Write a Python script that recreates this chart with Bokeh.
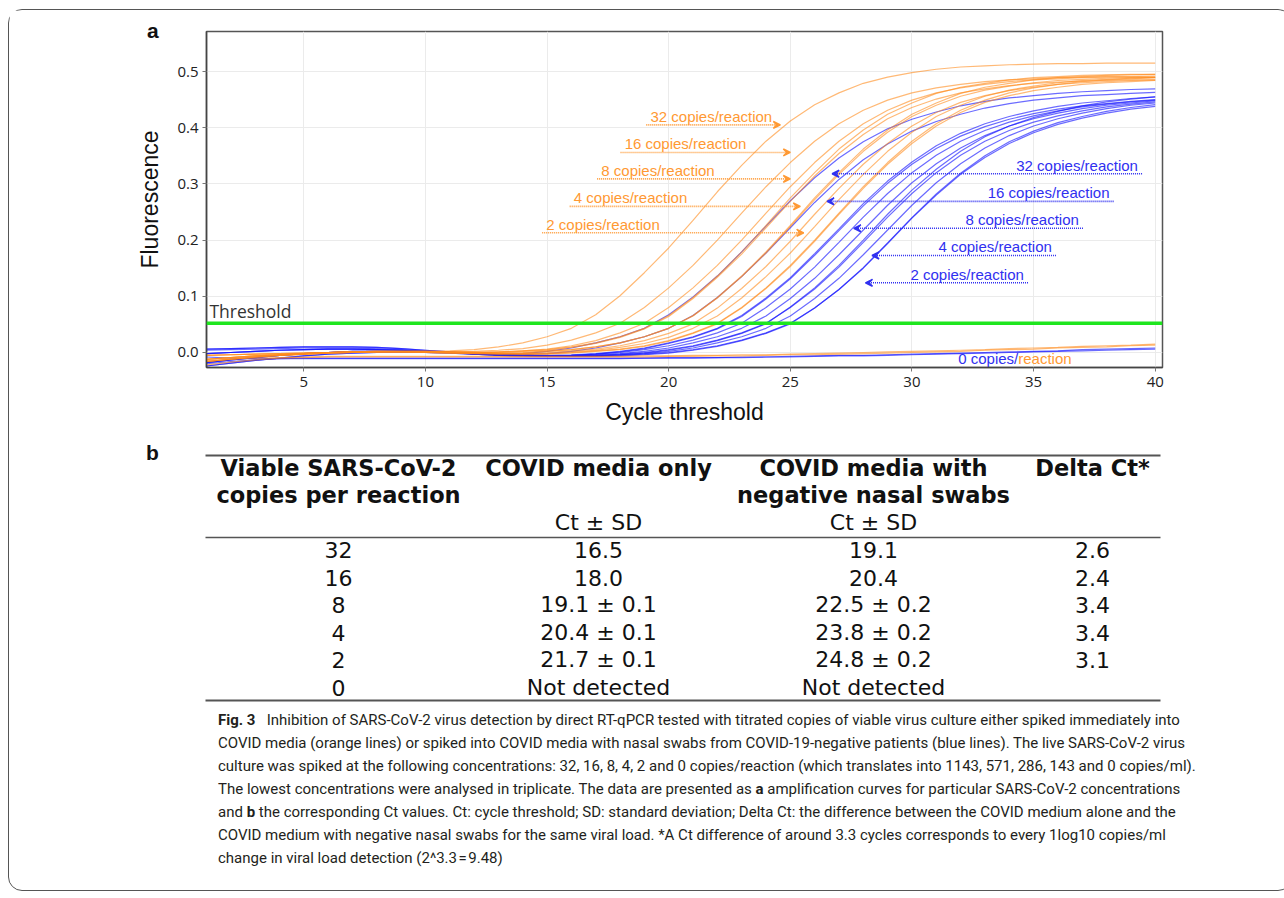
from bokeh.plotting import figure
from bokeh.models import Range1d, FixedTicker, PrintfTickFormatter, Span, Arrow, VeeHead, Div
from bokeh.layouts import column
from bokeh.core.properties import value
from bokeh.embed import file_html
from bokeh.resources import INLINE

# ---------------- data ----------------
cycles = [1, 2, 3, 4, 5, 6, 7, 8, 9, 10, 11, 12, 13, 14, 15, 16, 17, 18, 19, 20,
          21, 22, 23, 24, 25, 26, 27, 28, 29, 30, 31, 32, 33, 34, 35, 36, 37, 38, 39, 40]
threshold = 0.052
x_ticks = [5, 10, 15, 20, 25, 30, 35, 40]
y_ticks = [0.0, 0.1, 0.2, 0.3, 0.4, 0.5]

# COVID media only (orange)
orange_32 = [-0.012, -0.009, -0.006, -0.004, -0.002, 0.000, 0.001, 0.002, 0.002, 0.002,
             0.003, 0.005, 0.010, 0.017, 0.028, 0.043, 0.067, 0.101, 0.142, 0.186,
             0.235, 0.286, 0.333, 0.376, 0.412, 0.441, 0.462, 0.479, 0.490, 0.498,
             0.504, 0.508, 0.510, 0.512, 0.513, 0.514, 0.514, 0.515, 0.515, 0.515]
orange_16 = [-0.016, -0.012, -0.008, -0.005, -0.003, -0.001, 0.000, 0.001, 0.001, 0.001,
             0.001, 0.002, 0.004, 0.007, 0.013, 0.022, 0.035, 0.052, 0.080, 0.115,
             0.155, 0.200, 0.248, 0.295, 0.338, 0.376, 0.407, 0.431, 0.449, 0.462,
             0.471, 0.477, 0.482, 0.485, 0.487, 0.489, 0.490, 0.491, 0.491, 0.492]
orange_8a = [-0.005, -0.004, -0.003, -0.002, -0.001, 0.000, 0.001, 0.001, 0.001, 0.000,
             -0.001, -0.001, 0.001, 0.003, 0.006, 0.012, 0.021, 0.035, 0.052, 0.080,
             0.115, 0.155, 0.200, 0.248, 0.295, 0.338, 0.376, 0.407, 0.431, 0.449,
             0.462, 0.471, 0.477, 0.482, 0.485, 0.487, 0.489, 0.490, 0.490, 0.490]
orange_8b = [-0.012, -0.009, -0.006, -0.004, -0.002, 0.000, 0.001, 0.002, 0.002, 0.002,
             0.001, 0.001, 0.001, 0.003, 0.005, 0.010, 0.017, 0.028, 0.043, 0.066,
             0.098, 0.136, 0.179, 0.226, 0.275, 0.320, 0.362, 0.396, 0.424, 0.444,
             0.461, 0.472, 0.479, 0.485, 0.489, 0.491, 0.493, 0.494, 0.495, 0.495]
orange_8c = [-0.016, -0.012, -0.008, -0.005, -0.003, -0.001, 0.000, 0.001, 0.001, 0.001,
             0.000, 0.000, 0.000, 0.002, 0.004, 0.009, 0.016, 0.027, 0.042, 0.064,
             0.096, 0.134, 0.175, 0.222, 0.269, 0.314, 0.354, 0.388, 0.416, 0.436,
             0.451, 0.462, 0.469, 0.475, 0.479, 0.481, 0.483, 0.484, 0.485, 0.485]
orange_4a = [-0.005, -0.004, -0.003, -0.002, -0.001, 0.000, 0.001, 0.001, 0.001, 0.000,
             -0.001, -0.002, -0.002, -0.001, 0.002, 0.005, 0.010, 0.017, 0.028, 0.043,
             0.065, 0.097, 0.135, 0.177, 0.224, 0.272, 0.317, 0.358, 0.392, 0.420,
             0.440, 0.456, 0.467, 0.474, 0.480, 0.484, 0.486, 0.488, 0.489, 0.490]
orange_4b = [-0.012, -0.009, -0.006, -0.004, -0.002, 0.000, 0.001, 0.002, 0.002, 0.002,
             0.001, 0.000, -0.001, 0.000, 0.003, 0.005, 0.010, 0.017, 0.028, 0.043,
             0.066, 0.098, 0.136, 0.179, 0.226, 0.275, 0.320, 0.362, 0.396, 0.424,
             0.444, 0.461, 0.472, 0.479, 0.485, 0.489, 0.491, 0.493, 0.494, 0.495]
orange_4c = [-0.016, -0.012, -0.008, -0.005, -0.003, -0.001, 0.000, 0.001, 0.001, 0.001,
             0.000, -0.001, -0.002, -0.002, 0.000, 0.003, 0.006, 0.012, 0.021, 0.034,
             0.051, 0.079, 0.114, 0.153, 0.198, 0.246, 0.292, 0.335, 0.372, 0.403,
             0.427, 0.445, 0.457, 0.466, 0.472, 0.477, 0.480, 0.482, 0.484, 0.485]
orange_2a = [-0.005, -0.004, -0.003, -0.002, -0.001, 0.000, 0.001, 0.001, 0.001, 0.000,
             -0.001, -0.002, -0.003, -0.003, -0.002, 0.001, 0.004, 0.009, 0.016, 0.027,
             0.043, 0.065, 0.097, 0.135, 0.177, 0.224, 0.272, 0.317, 0.358, 0.392,
             0.420, 0.440, 0.456, 0.467, 0.474, 0.480, 0.484, 0.486, 0.488, 0.489]
orange_2b = [-0.012, -0.009, -0.006, -0.004, -0.002, 0.000, 0.001, 0.002, 0.002, 0.002,
             0.001, 0.000, -0.001, -0.002, -0.002, 0.000, 0.003, 0.006, 0.012, 0.021,
             0.035, 0.052, 0.080, 0.115, 0.155, 0.200, 0.248, 0.295, 0.338, 0.376,
             0.407, 0.431, 0.449, 0.462, 0.471, 0.477, 0.482, 0.485, 0.487, 0.489]
orange_2c = [-0.016, -0.012, -0.008, -0.005, -0.003, -0.001, 0.000, 0.001, 0.001, 0.001,
             0.000, -0.001, -0.002, -0.003, -0.003, -0.001, 0.002, 0.005, 0.011, 0.020,
             0.034, 0.051, 0.079, 0.114, 0.153, 0.198, 0.246, 0.292, 0.335, 0.372,
             0.403, 0.427, 0.445, 0.457, 0.466, 0.472, 0.477, 0.480, 0.482, 0.484]
orange_0a = [-0.022, -0.017, -0.013, -0.010, -0.009, -0.008, -0.008, -0.008, -0.008, -0.008,
             -0.008, -0.008, -0.008, -0.008, -0.008, -0.008, -0.008, -0.008, -0.008, -0.007,
             -0.007, -0.006, -0.006, -0.005, -0.004, -0.004, -0.003, -0.002, -0.001, 0.000,
             0.001, 0.002, 0.004, 0.005, 0.006, 0.008, 0.009, 0.010, 0.012, 0.013]
orange_0b = [-0.014, -0.012, -0.010, -0.009, -0.008, -0.007, -0.007, -0.007, -0.007, -0.007,
             -0.007, -0.007, -0.007, -0.007, -0.007, -0.007, -0.007, -0.007, -0.006, -0.006,
             -0.005, -0.005, -0.004, -0.004, -0.003, -0.002, -0.001, 0.000, 0.001, 0.002,
             0.003, 0.004, 0.005, 0.007, 0.008, 0.009, 0.011, 0.012, 0.013, 0.015]

# COVID media with negative nasal swabs (blue)
blue_32 = [0.006, 0.007, 0.008, 0.009, 0.010, 0.010, 0.010, 0.009, 0.007, 0.004,
           0.001, -0.003, -0.004, -0.002, 0.002, 0.008, 0.017, 0.028, 0.043, 0.067,
           0.099, 0.136, 0.179, 0.225, 0.270, 0.311, 0.346, 0.375, 0.398, 0.415,
           0.428, 0.439, 0.447, 0.453, 0.457, 0.461, 0.464, 0.466, 0.468, 0.469]
blue_16 = [-0.002, 0.000, 0.002, 0.004, 0.005, 0.006, 0.006, 0.005, 0.004, 0.002,
           0.000, -0.002, -0.004, -0.004, -0.002, 0.002, 0.008, 0.017, 0.028, 0.043,
           0.066, 0.098, 0.135, 0.177, 0.222, 0.267, 0.308, 0.343, 0.371, 0.394,
           0.411, 0.424, 0.435, 0.443, 0.449, 0.453, 0.457, 0.459, 0.461, 0.463]
blue_8a = [-0.018, -0.013, -0.009, -0.005, -0.002, 0.000, 0.002, 0.002, 0.002, 0.001,
           0.000, -0.002, -0.004, -0.005, -0.005, -0.004, -0.002, 0.002, 0.008, 0.017,
           0.028, 0.043, 0.066, 0.097, 0.133, 0.176, 0.220, 0.265, 0.305, 0.339,
           0.368, 0.390, 0.407, 0.420, 0.430, 0.438, 0.444, 0.448, 0.452, 0.455]
blue_8b = [-0.024, -0.019, -0.014, -0.010, -0.006, -0.003, -0.001, 0.000, 0.000, 0.000,
           -0.001, -0.003, -0.005, -0.006, -0.006, -0.005, -0.003, 0.001, 0.007, 0.016,
           0.027, 0.042, 0.064, 0.095, 0.131, 0.173, 0.217, 0.261, 0.301, 0.335,
           0.363, 0.385, 0.402, 0.415, 0.425, 0.433, 0.439, 0.443, 0.447, 0.450]
blue_8c = [0.004, 0.005, 0.006, 0.007, 0.008, 0.008, 0.008, 0.007, 0.005, 0.003,
           0.000, -0.003, -0.005, -0.006, -0.006, -0.005, -0.003, 0.000, 0.005, 0.012,
           0.022, 0.035, 0.052, 0.080, 0.113, 0.152, 0.196, 0.241, 0.283, 0.320,
           0.351, 0.376, 0.395, 0.410, 0.421, 0.430, 0.437, 0.442, 0.446, 0.449]
blue_4a = [-0.002, 0.000, 0.002, 0.004, 0.005, 0.006, 0.006, 0.005, 0.004, 0.002,
           0.000, -0.002, -0.004, -0.005, -0.006, -0.006, -0.004, -0.002, 0.002, 0.008,
           0.017, 0.028, 0.043, 0.065, 0.096, 0.132, 0.174, 0.218, 0.262, 0.302,
           0.336, 0.364, 0.386, 0.403, 0.416, 0.426, 0.434, 0.440, 0.444, 0.448]
blue_4b = [-0.018, -0.013, -0.009, -0.005, -0.002, 0.000, 0.002, 0.002, 0.002, 0.001,
           0.000, -0.002, -0.004, -0.005, -0.006, -0.006, -0.005, -0.003, 0.000, 0.005,
           0.012, 0.022, 0.035, 0.052, 0.080, 0.113, 0.152, 0.196, 0.241, 0.283,
           0.320, 0.351, 0.376, 0.395, 0.410, 0.421, 0.430, 0.437, 0.442, 0.446]
blue_4c = [-0.024, -0.019, -0.014, -0.010, -0.006, -0.003, -0.001, 0.000, 0.000, 0.000,
           -0.001, -0.003, -0.005, -0.006, -0.007, -0.007, -0.006, -0.004, -0.001, 0.004,
           0.011, 0.021, 0.034, 0.051, 0.081, 0.115, 0.155, 0.200, 0.246, 0.289,
           0.326, 0.358, 0.384, 0.403, 0.418, 0.429, 0.439, 0.446, 0.451, 0.455]
blue_2a = [0.006, 0.007, 0.008, 0.009, 0.010, 0.010, 0.010, 0.009, 0.007, 0.004,
           0.001, -0.002, -0.004, -0.005, -0.006, -0.006, -0.006, -0.004, -0.002, 0.002,
           0.008, 0.017, 0.028, 0.043, 0.065, 0.096, 0.132, 0.174, 0.218, 0.262,
           0.302, 0.336, 0.364, 0.386, 0.403, 0.416, 0.426, 0.434, 0.440, 0.444]
blue_2b = [-0.002, 0.000, 0.002, 0.004, 0.005, 0.006, 0.006, 0.005, 0.004, 0.002,
           0.000, -0.002, -0.004, -0.005, -0.006, -0.006, -0.006, -0.005, -0.003, 0.000,
           0.005, 0.012, 0.022, 0.035, 0.052, 0.079, 0.112, 0.150, 0.194, 0.239,
           0.280, 0.317, 0.347, 0.372, 0.391, 0.406, 0.417, 0.426, 0.433, 0.438]
blue_2c = [-0.018, -0.013, -0.009, -0.005, -0.002, 0.000, 0.002, 0.002, 0.002, 0.001,
           0.000, -0.002, -0.004, -0.005, -0.006, -0.007, -0.007, -0.006, -0.004, -0.001,
           0.004, 0.011, 0.021, 0.034, 0.051, 0.079, 0.112, 0.151, 0.195, 0.240,
           0.282, 0.319, 0.350, 0.375, 0.394, 0.409, 0.420, 0.429, 0.436, 0.441]
blue_0a = [-0.008, -0.010, -0.011, -0.011, -0.011, -0.011, -0.011, -0.011, -0.011, -0.011,
           -0.011, -0.011, -0.011, -0.011, -0.011, -0.011, -0.011, -0.011, -0.010, -0.010,
           -0.010, -0.009, -0.009, -0.008, -0.008, -0.007, -0.006, -0.006, -0.005, -0.004,
           -0.003, -0.002, -0.001, 0.000, 0.001, 0.002, 0.003, 0.004, 0.005, 0.006]
blue_0b = [-0.020, -0.016, -0.013, -0.011, -0.010, -0.010, -0.010, -0.010, -0.010, -0.010,
           -0.010, -0.010, -0.010, -0.010, -0.010, -0.010, -0.010, -0.010, -0.010, -0.009,
           -0.009, -0.009, -0.008, -0.008, -0.007, -0.006, -0.005, -0.005, -0.004, -0.003,
           -0.002, -0.001, 0.000, 0.001, 0.002, 0.003, 0.005, 0.006, 0.007, 0.008]

# table (panel b)
copies = ["32", "16", "8", "4", "2", "0"]
ct_media_only = ["16.5", "18.0", "19.1 \u00b1 0.1", "20.4 \u00b1 0.1", "21.7 \u00b1 0.1", "Not detected"]
ct_media_swab = ["19.1", "20.4", "22.5 \u00b1 0.2", "23.8 \u00b1 0.2", "24.8 \u00b1 0.2", "Not detected"]
delta_ct = ["2.6", "2.4", "3.4", "3.4", "3.1", ""]

orange_series = [orange_0a, orange_0b, orange_32, orange_16, orange_8a, orange_8b, orange_8c,
                 orange_4a, orange_4b, orange_4c, orange_2a, orange_2b, orange_2c]
blue_series = [blue_0a, blue_0b, blue_32, blue_16, blue_8a, blue_8b, blue_8c,
               blue_4a, blue_4b, blue_4c, blue_2a, blue_2b, blue_2c]
for s in orange_series + blue_series:
    if len(s) != len(cycles):
        raise ValueError("bad series length %d" % len(s))

# ---------------- styles / positions ----------------
ORANGE_LINE = "#ff8a1a"
BLUE_LINE = "#1010ff"
ORANGE_TXT = "#ff9933"
BLUE_TXT = "#3030f0"

# label positions (data units of panel a): text, dotted-line start, arrow tip, line height
orange_lbl = [("32 copies/reaction", 19.08, 24.59, 0.405),
              ("16 copies/reaction", 18.02, 25.00, 0.356),
              ("8 copies/reaction", 17.06, 25.00, 0.309),
              ("4 copies/reaction", 15.93, 25.41, 0.260),
              ("2 copies/reaction", 14.80, 25.55, 0.213)]
# text, arrow tip, dotted-line end, line height
blue_lbl = [("32 copies/reaction", 26.72, 39.46, 0.318),
            ("16 copies/reaction", 26.51, 38.29, 0.269),
            ("8 copies/reaction", 27.61, 37.03, 0.221),
            ("4 copies/reaction", 28.36, 35.92, 0.1726),
            ("2 copies/reaction", 28.09, 34.77, 0.124)]
LBL_DY = 0.0153   # text centre sits ~8.6 px above its dotted line
LBL_DX = 0.17

# ---------------- panel a ----------------
pA = figure(width=1272, height=430, x_range=Range1d(1.0, 40.3), y_range=Range1d(-0.0267, 0.5712),
            output_backend="svg", toolbar_location=None,
            min_border_left=197, min_border_right=119, min_border_top=21, min_border_bottom=73)
pA.frame_align = False
pA.background_fill_color = "white"
pA.border_fill_color = "white"
pA.outline_line_color = "#555555"
pA.outline_line_width = 1.5

pA.xaxis.ticker = FixedTicker(ticks=x_ticks)
pA.yaxis.ticker = FixedTicker(ticks=y_ticks)
pA.yaxis.formatter = PrintfTickFormatter(format="%.1f")
pA.xgrid.ticker = FixedTicker(ticks=x_ticks)
pA.ygrid.ticker = FixedTicker(ticks=y_ticks)
pA.grid.grid_line_color = "#ebebeb"
pA.grid.grid_line_width = 1
pA.xaxis.axis_label = "Cycle threshold"
pA.yaxis.axis_label = "Fluorescence"
for ax in (pA.xaxis[0], pA.yaxis[0]):
    ax.axis_label_text_font = "Liberation Sans"
    ax.axis_label_text_font_size = "23px"
    ax.axis_label_text_font_style = "normal"
    ax.axis_label_text_color = "#111111"
    ax.major_label_text_font = "Open Sans"
    ax.major_label_text_font_size = "15px"
    ax.major_label_text_color = "#222222"
    ax.axis_line_color = "#444444"
    ax.axis_line_width = 1.5
    ax.major_tick_line_color = "#777777"
    ax.major_tick_out = 4
    ax.major_tick_in = 0
    ax.minor_tick_line_color = None
pA.xaxis.major_label_standoff = 5
pA.xaxis.axis_label_standoff = 9
pA.yaxis.major_label_standoff = 4
pA.yaxis.axis_label_standoff = 11

for s in blue_series:
    pA.line(cycles, s, line_color=BLUE_LINE, line_alpha=0.62, line_width=1.2)
for s in orange_series:
    pA.line(cycles, s, line_color=ORANGE_LINE, line_alpha=0.6, line_width=1.2)

pA.add_layout(Span(location=threshold, dimension="width", line_color="#1ee61e", line_width=3.5))

pA.text(x=[1.12], y=[0.0747], text=["Threshold"], text_font=value("Open Sans"),
        text_font_size="17.5px", text_color="#333333", text_baseline="middle", text_align="left")

for lbl, xs, xt, y in orange_lbl:
    pA.add_layout(Arrow(end=VeeHead(size=7, line_color=ORANGE_TXT, fill_color=ORANGE_TXT, line_width=1.5),
                        x_start=xs, y_start=y, x_end=xt, y_end=y,
                        line_color=ORANGE_TXT, line_width=1.6, line_dash="1 1"))
    pA.text(x=[xs + LBL_DX], y=[y + LBL_DY], text=[lbl], text_font=value("Liberation Sans"),
            text_font_size="15px", text_color=ORANGE_TXT, text_align="left", text_baseline="middle")
for lbl, xt, xe, y in blue_lbl:
    pA.add_layout(Arrow(end=VeeHead(size=7, line_color=BLUE_TXT, fill_color=BLUE_TXT, line_width=1.5),
                        x_start=xe, y_start=y, x_end=xt, y_end=y,
                        line_color=BLUE_TXT, line_width=1.6, line_dash="1 1"))
    pA.text(x=[xe - LBL_DX], y=[y + LBL_DY], text=[lbl], text_font=value("Liberation Sans"),
            text_font_size="15px", text_color=BLUE_TXT, text_align="right", text_baseline="middle")

pA.text(x=[34.37], y=[-0.0107], text=["0 copies/"], text_font=value("Liberation Sans"),
        text_font_size="15px", text_color=BLUE_TXT, text_align="right", text_baseline="middle")
pA.text(x=[34.37], y=[-0.0107], text=["reaction"], text_font=value("Liberation Sans"),
        text_font_size="15px", text_color=ORANGE_TXT, text_align="left", text_baseline="middle")

# ---------------- panel b (table) ----------------
pB = figure(width=1272, height=264, x_range=Range1d(9, 1281), y_range=Range1d(704, 440),
            output_backend="svg", toolbar_location=None, min_border=0,
            x_axis_location=None, y_axis_location=None)
pB.frame_align = False
pB.grid.visible = False
pB.outline_line_color = None
pB.background_fill_color = "white"
pB.border_fill_color = "white"

col_x = [338, 598, 873, 1092]
row_y = [549, 577, 604, 632, 659, 687]
TBL_FONT = value("DejaVu Sans")

pB.text(x=[152], y=[452], text=["b"], text_font=value("Liberation Sans"), text_font_style="bold",
        text_font_size="21px", text_color="#111111", text_align="center", text_baseline="middle")
pB.segment(x0=[205, 205, 205], y0=[455, 537, 700], x1=[1160, 1160, 1160], y1=[455, 537, 700],
           line_color="#555555", line_width=[2.0, 1.5, 2.0])

pB.text(x=[col_x[0], col_x[1], col_x[2], col_x[3], col_x[0], col_x[2]],
        y=[467, 467, 467, 467, 494, 494],
        text=["Viable SARS-CoV-2", "COVID media only", "COVID media with", "Delta Ct*",
              "copies per reaction", "negative nasal swabs"],
        text_font=TBL_FONT, text_font_style="bold", text_font_size="22.5px", text_color="#111111",
        text_align="center", text_baseline="middle")
pB.text(x=[col_x[1], col_x[2]], y=[522, 522], text=["Ct \u00b1 SD", "Ct \u00b1 SD"],
        text_font=TBL_FONT, text_font_size="22px", text_color="#111111",
        text_align="center", text_baseline="middle")
for cx, vals in zip(col_x, [copies, ct_media_only, ct_media_swab, delta_ct]):
    pB.text(x=[cx] * len(vals), y=row_y, text=vals, text_font=TBL_FONT, text_font_size="22px",
            text_color="#111111", text_align="center", text_baseline="middle")

# ---------------- caption ----------------
cap_lines = [
    "<b>Fig.&nbsp;3</b>&nbsp;&nbsp; Inhibition of SARS-CoV-2 virus detection by direct RT-qPCR tested with titrated copies of viable virus culture either spiked immediately into",
    "COVID media (orange lines) or spiked into COVID media with nasal swabs from COVID-19-negative patients (blue lines). The live SARS-CoV-2 virus",
    "culture was spiked at the following concentrations: 32, 16, 8, 4, 2 and 0 copies/reaction (which translates into 1143, 571, 286, 143 and 0 copies/ml).",
    "The lowest concentrations were analysed in triplicate. The data are presented as <b>a</b> amplification curves for particular SARS-CoV-2 concentrations",
    "and <b>b</b> the corresponding Ct values. Ct: cycle threshold; SD: standard deviation; Delta Ct: the difference between the COVID medium alone and the",
    "COVID medium with negative nasal swabs for the same viral load. *A Ct difference of around 3.3 cycles corresponds to every 1log10 copies/ml",
    "change in viral load detection (2^3.3&#8202;=&#8202;9.48)",
]
cap = Div(text='<div style="margin-left:204px;">' + "<br>".join(cap_lines) + "</div>",
          width=1272, height=176,
          styles={"font-family": "Roboto, sans-serif", "font-size": "15px", "line-height": "23px",
                  "color": "#231f20", "white-space": "nowrap"})

panel_a_letter = Div(text="a", width=20, height=22,
                     styles={"position": "absolute", "left": "133px", "top": "4.5px",
                             "font-family": "Liberation Sans, Arial, sans-serif", "font-size": "21px",
                             "font-weight": "bold", "line-height": "21px", "color": "#111111"})

layout = column(pA, pB, cap, panel_a_letter, spacing=0,
                styles={"border": "1.2px solid #555555", "border-radius": "14px", "background": "white",
                        "margin-left": "8px", "margin-top": "9px"})

open("out.html", "w").write(file_html(layout, INLINE))
